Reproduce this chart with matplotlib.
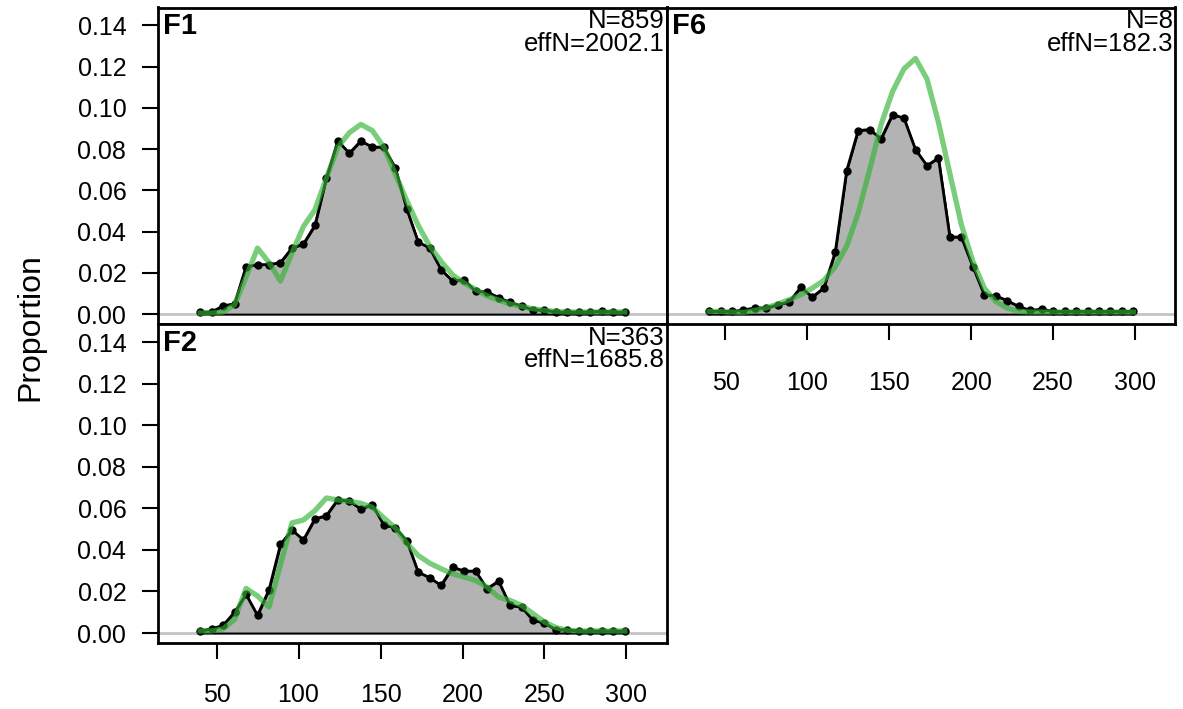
import matplotlib
matplotlib.use("Agg")
import matplotlib.pyplot as plt
import numpy as np

plt.rcParams['font.family'] = ['Liberation Sans', 'DejaVu Sans']

# length bins (same for every panel)
lengths = [40, 47, 54, 61, 68, 75, 82, 89, 96, 103, 110, 117, 124, 131, 138, 145,
           152, 159, 166, 173, 180, 187, 194, 201, 208, 215, 222, 229, 236, 243,
           250, 257, 264, 271, 278, 285, 292, 299]

# observed proportions
obs_f1 = [0.001, 0.001, 0.004, 0.005, 0.023, 0.024, 0.024, 0.025, 0.032, 0.034,
          0.043, 0.066, 0.084, 0.078, 0.084, 0.081, 0.081, 0.071, 0.051, 0.035,
          0.032, 0.0215, 0.016, 0.0167, 0.011, 0.0108, 0.008, 0.0057, 0.004, 0.002,
          0.002, 0.001, 0.001, 0.001, 0.001, 0.0015, 0.001, 0.001]
obs_f6 = [0.0013, 0.0013, 0.0013, 0.002, 0.003, 0.003, 0.0045, 0.006, 0.013, 0.0083,
          0.0126, 0.030, 0.0696, 0.089, 0.0895, 0.085, 0.0968, 0.095, 0.0798, 0.072,
          0.0757, 0.0374, 0.0374, 0.023, 0.0094, 0.0089, 0.0065, 0.0037, 0.0018, 0.0024,
          0.0013, 0.0013, 0.0013, 0.0013, 0.0013, 0.0013, 0.0013, 0.0013]
obs_f2 = [0.001, 0.002, 0.0037, 0.010, 0.0186, 0.0085, 0.0208, 0.0426, 0.0496, 0.0448,
          0.0549, 0.0565, 0.0642, 0.0634, 0.0597, 0.0618, 0.052, 0.0506, 0.0445, 0.0293,
          0.0266, 0.0229, 0.0317, 0.0298, 0.0298, 0.0213, 0.025, 0.0133, 0.0125, 0.0061,
          0.0048, 0.0016, 0.0016, 0.001, 0.001, 0.001, 0.001, 0.001]

# expected (model) proportions
exp_f1 = [0.0005, 0.0005, 0.001, 0.0045, 0.018, 0.032, 0.025, 0.016, 0.0296, 0.0425,
          0.0506, 0.066, 0.081, 0.088, 0.092, 0.089, 0.081, 0.068, 0.055, 0.043,
          0.033, 0.0255, 0.019, 0.015, 0.012, 0.0088, 0.0068, 0.0049, 0.0037, 0.0026,
          0.0018, 0.0013, 0.001, 0.001, 0.001, 0.001, 0.001, 0.001]
exp_f6 = [0.0013, 0.0013, 0.0010, 0.0008, 0.0018, 0.003, 0.0049, 0.007, 0.0094, 0.0126,
          0.0163, 0.023, 0.033, 0.049, 0.070, 0.092, 0.108, 0.119, 0.124, 0.114,
          0.093, 0.068, 0.0434, 0.0256, 0.0126, 0.0061, 0.0029, 0.0013, 0.001, 0.001,
          0.001, 0.001, 0.001, 0.001, 0.001, 0.001, 0.001, 0.001]
exp_f2 = [0.001, 0.001, 0.002, 0.0065, 0.0215, 0.0178, 0.0125, 0.033, 0.053, 0.0544,
          0.0589, 0.065, 0.064, 0.0634, 0.0624, 0.0605, 0.0554, 0.0506, 0.0432, 0.0373,
          0.0336, 0.0309, 0.0285, 0.0269, 0.0253, 0.0221, 0.0173, 0.0157, 0.0133, 0.0093,
          0.0053, 0.0026, 0.0013, 0.001, 0.001, 0.001, 0.001, 0.001]

panels = [
    ("F1", "N=859", "effN=2002.1", obs_f1, exp_f1),
    ("F6", "N=8", "effN=182.3", obs_f6, exp_f6),
    ("F2", "N=363", "effN=1685.8", obs_f2, exp_f2),
]

W, H = 1183, 709
fig = plt.figure(figsize=(W / 100, H / 100), dpi=100)

def box(l, t, r, b):
    return [l / W, 1 - b / H, (r - l) / W, (b - t) / H]

ax_f1 = fig.add_axes(box(157.5, 7.5, 666.5, 324))
ax_f6 = fig.add_axes(box(666.5, 7.5, 1175, 324))
ax_f2 = fig.add_axes(box(157.5, 324, 666.5, 643))
axes = [ax_f1, ax_f6, ax_f2]

green = (0.2, 0.7, 0.2, 0.65)

for ax, (name, ntxt, efftxt, obs, exp) in zip(axes, panels):
    ax.axhline(0, color="#c4c4c4", lw=2, zorder=1)
    ax.fill_between(lengths, 0, obs, facecolor="#b3b3b3", edgecolor="black", lw=1.4, zorder=2)
    ax.plot(lengths, obs, color="black", lw=2.0, marker="o", ms=5, zorder=3)
    ax.plot(lengths, exp, color=green, lw=3.8, zorder=4)
    ax.set_xlim(14, 324.4)
    ax.set_ylim(-0.0048, 0.1487)
    for s in ax.spines.values():
        s.set_linewidth(2.0)
    ax.text(0.01, 0.985, name, transform=ax.transAxes, ha="left", va="top",
            fontsize=21, fontweight="bold")
    ax.text(0.997, 0.995, ntxt + "\n" + efftxt, transform=ax.transAxes, ha="right",
            va="top", fontsize=18.5, linespacing=0.92)
    ax.tick_params(direction="out", length=11.5, width=1.5, labelsize=18)
    ax.set_xticks([50, 100, 150, 200, 250, 300])
    ax.set_yticks(np.arange(0, 0.141, 0.02))
    ax.yaxis.set_major_formatter(matplotlib.ticker.FormatStrFormatter("%.2f"))
    ax.tick_params(axis="x", pad=17)
    ax.tick_params(axis="y", pad=11)

ax_f1.tick_params(axis="x", bottom=False, labelbottom=False)
ax_f6.tick_params(axis="y", left=False, labelleft=False)
ax_f6.tick_params(axis="x", pad=22)

fig.text(0.026, 1 - 327 / H, "Proportion", rotation=90, ha="center", va="center", fontsize=23)

fig.savefig("out.png", dpi=100)
